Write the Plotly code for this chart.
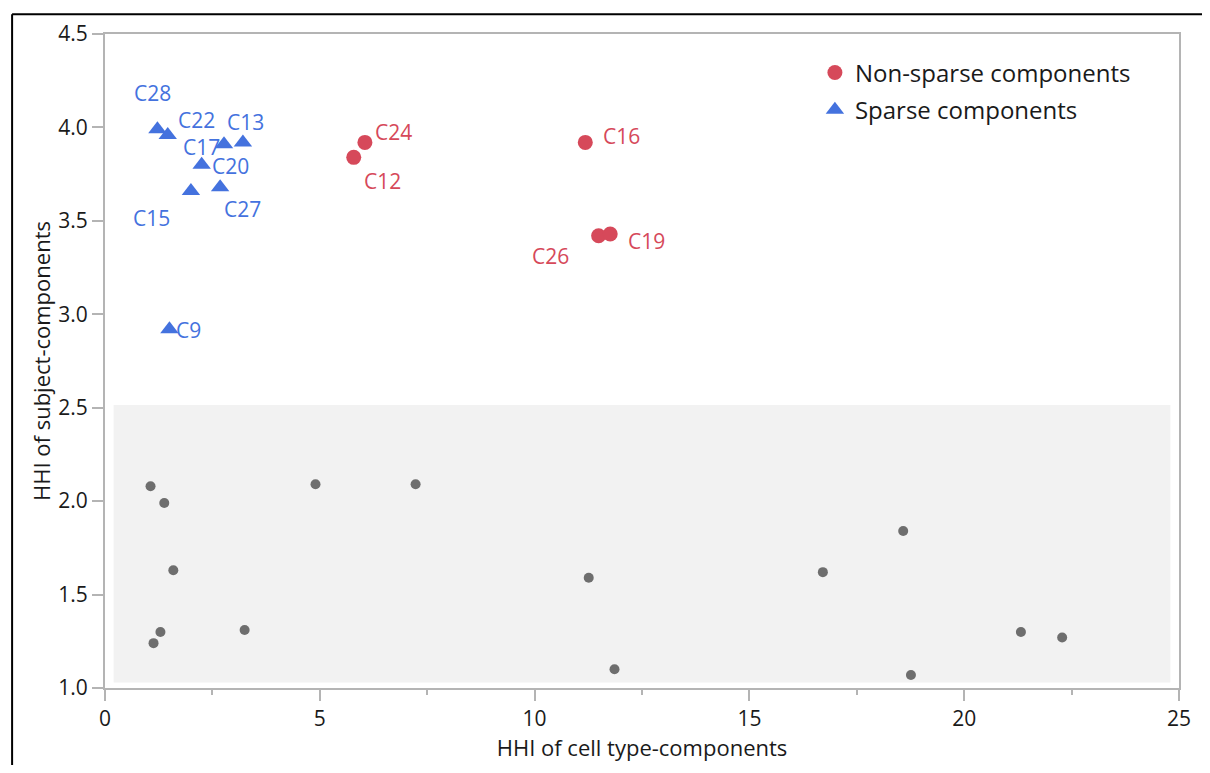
import plotly.graph_objects as go

# ---------------- data ----------------
nonsparse_labels = ["C24", "C12", "C16", "C26", "C19"]
nonsparse_x = [6.05, 5.79, 11.18, 11.49, 11.76]
nonsparse_y = [3.92, 3.84, 3.92, 3.42, 3.43]

sparse_labels = ["C28", "C22", "C17", "C13", "C20", "C15", "C27", "C9"]
sparse_x = [1.22, 1.46, 2.77, 3.21, 2.25, 2.00, 2.68, 1.50]
sparse_y = [3.99, 3.96, 3.91, 3.92, 3.80, 3.66, 3.68, 2.92]

other_x = [1.06, 1.38, 1.59, 1.29, 1.13, 3.25, 4.90, 7.23, 11.26, 11.86, 16.71, 18.58, 18.76, 21.32, 22.28]
other_y = [2.08, 1.99, 1.63, 1.30, 1.24, 1.31, 2.09, 2.09, 1.59, 1.10, 1.62, 1.84, 1.07, 1.30, 1.27]

x_title = "HHI of cell type-components"
y_title = "HHI of subject-components"
legend_names = ["Non-sparse components", "Sparse components"]

# ---------------- style ----------------
RED = "#D6495A"
BLUE = "#4472DE"
GRAY = "#6E6E6E"
AXIS = "#B4B4B4"
FONT = "Open Sans"

# label offsets in pixels (dx, dy; dy positive = upward)
label_shift = {
    "C28": (-5, 36), "C22": (29, 15), "C13": (3, 20), "C17": (-23, -3),
    "C20": (29, -1), "C15": (-39, -27), "C27": (22, -22), "C9": (19, -1),
    "C24": (29, 10), "C12": (29, -24), "C16": (36, 6), "C26": (-48, -20),
    "C19": (36, -7),
}

fig = go.Figure()

fig.add_trace(go.Scatter(
    x=other_x, y=other_y, mode="markers", showlegend=False,
    marker=dict(color=GRAY, size=10, line=dict(width=0)), hoverinfo="x+y"))

fig.add_trace(go.Scatter(
    x=nonsparse_x, y=nonsparse_y, mode="markers", name=legend_names[0],
    legendgroup="a", text=nonsparse_labels,
    marker=dict(color=RED, size=15, symbol="circle", line=dict(width=0))))

fig.add_trace(go.Scatter(
    x=sparse_x, y=sparse_y, mode="markers", name=legend_names[1],
    legendgroup="b", text=sparse_labels,
    marker=dict(color=BLUE, size=16, symbol="triangle-up", line=dict(width=0))))

annotations = []
for labels, xs, ys, col in [(nonsparse_labels, nonsparse_x, nonsparse_y, RED),
                            (sparse_labels, sparse_x, sparse_y, BLUE)]:
    for lab, xv, yv in zip(labels, xs, ys):
        dx, dy = label_shift[lab]
        annotations.append(dict(
            x=xv, y=yv, xref="x", yref="y", text=lab, showarrow=False,
            xshift=dx, yshift=dy, font=dict(family=FONT, size=21, color=col)))

FX, FY = -0.0865, 1.0302
shapes = [
    dict(type="rect", xref="x", yref="y", x0=0.2, x1=24.8, y0=1.03, y1=2.515,
         fillcolor="#F2F2F2", line=dict(width=0), layer="below"),
    dict(type="line", xref="paper", yref="paper", x0=FX, x1=1.5, y0=FY, y1=FY,
         line=dict(color="black", width=2), layer="above"),
    dict(type="line", xref="paper", yref="paper", x0=FX, x1=FX, y0=-0.5, y1=FY,
         line=dict(color="black", width=2), layer="above"),
]

fig.update_layout(
    width=1194, height=757,
    margin=dict(l=97, r=11, t=21, b=73),
    paper_bgcolor="white", plot_bgcolor="white",
    font=dict(family=FONT, size=21, color="#1A1A1A"),
    annotations=annotations, shapes=shapes,
    legend=dict(x=0.661, y=0.975, xanchor="left", yanchor="top",
                font=dict(family=FONT, size=24, color="#1A1A1A"),
                bgcolor="rgba(0,0,0,0)", tracegroupgap=3, traceorder="grouped"),
    xaxis=dict(range=[0, 25], tickvals=[0, 5, 10, 15, 20, 25],
               ticks="outside", ticklen=11, tickcolor=AXIS, tickwidth=1.5,
               showline=True, linecolor=AXIS, linewidth=2, mirror=True,
               showgrid=False, zeroline=False,
               minor=dict(tickvals=[2.5, 7.5, 12.5, 17.5, 22.5], ticks="outside",
                          ticklen=5, tickcolor=AXIS, tickwidth=1.5, showgrid=False),
               title=dict(text=x_title, font=dict(size=22), standoff=6)),
    yaxis=dict(range=[1.0, 4.5], tickvals=[1.0, 1.5, 2.0, 2.5, 3.0, 3.5, 4.0, 4.5],
               tickformat=".1f",
               ticks="outside", ticklen=11, tickcolor=AXIS, tickwidth=1.5,
               showline=True, linecolor=AXIS, linewidth=2, mirror=True,
               showgrid=False, zeroline=False,
               title=dict(text=y_title, font=dict(size=22), standoff=2)),
)

fig.write_html("out.html")
